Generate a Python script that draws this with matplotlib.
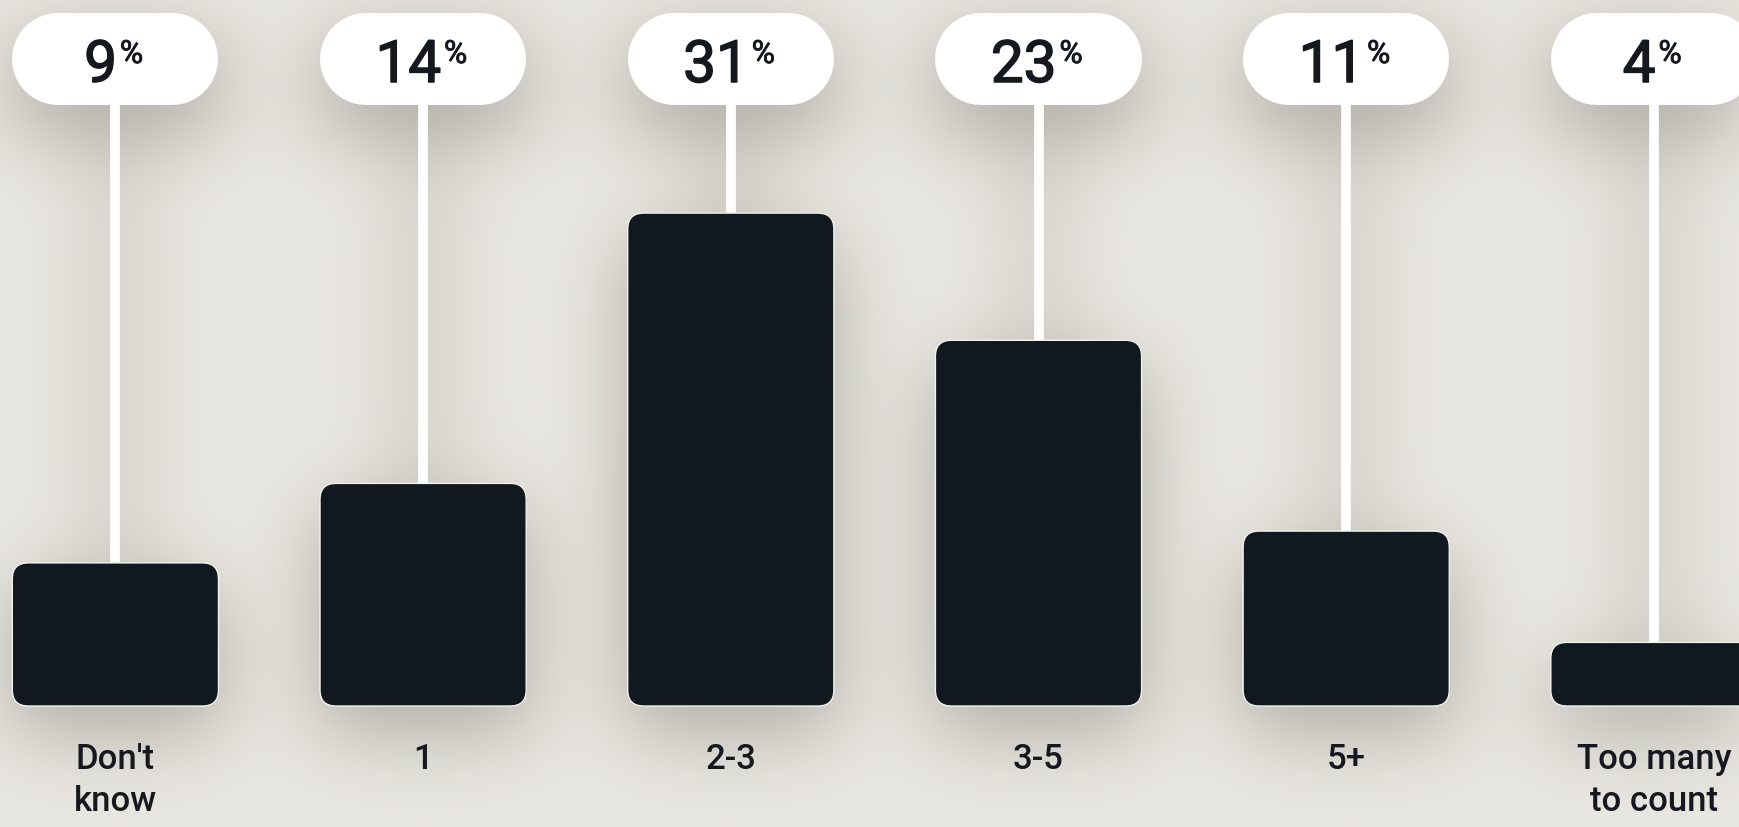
import numpy as np
import matplotlib.pyplot as plt
import matplotlib.patheffects as pe
from matplotlib.patches import FancyBboxPatch
from matplotlib.transforms import blended_transform_factory

# Data
categories = ["Don't\nknow", "1", "2-3", "3-5", "5+", "Too many\nto count"]
shares = [9, 14, 31, 23, 11, 4]

W, H, DPI = 1740, 827, 100
bg_color = "#e8e6e0"
bar_color = "#121820"
text_color = "#15191f"

# layout in pixels
px_per_cat = 307.7
px_per_pct = 15.9
first_center_px = 115.4
base_px = 121          # bar baseline, from bottom
bar_w = 0.67           # in category units
pill_top_px, pill_bot_px = 13, 105   # from top
corner_px = 16

plt.rcParams['font.family'] = ['Roboto', 'DejaVu Sans']

fig = plt.figure(figsize=(W / DPI, H / DPI), dpi=DPI)
fig.patch.set_facecolor(bg_color)
ax = fig.add_axes([0, 0, 1, 1])
ax.set_zorder(2)
ax.patch.set_alpha(0)
ax.axis('off')

x = np.arange(len(categories))
x_left = -first_center_px / px_per_cat
ax.set_xlim(x_left, x_left + W / px_per_cat)
y_bot = -base_px / px_per_pct
ax.set_ylim(y_bot, y_bot + H / px_per_pct)

aspect = px_per_cat / px_per_pct
pill_lo = y_bot + (H - pill_bot_px) / px_per_pct
pill_hi = y_bot + (H - pill_top_px) / px_per_pct
pill_mid = (pill_lo + pill_hi) / 2
pill_h_px = pill_bot_px - pill_top_px

# soft shadow layer, built from the same geometry
yy, xx = np.mgrid[0:H, 0:W]
mask = np.zeros((H, W))
def add_rect(x0, y0, x1, y1):
    (px0, py0), (px1, py1) = ax.transData.transform([(x0, y0), (x1, y1)])
    mask[((xx >= px0) & (xx <= px1) & (H - yy >= py0) & (H - yy <= py1))] = 1.0

for xi, v in zip(x, shares):
    add_rect(xi - bar_w / 2, 0, xi + bar_w / 2, v)
    add_rect(xi - bar_w / 2, pill_lo, xi + bar_w / 2, pill_hi)
    add_rect(xi - 0.04, v, xi + 0.04, pill_lo)

def blur(a, s):
    k = np.arange(-3 * s, 3 * s + 1)
    g = np.exp(-k ** 2 / (2.0 * s * s))
    g /= g.sum()
    a = np.apply_along_axis(lambda r: np.convolve(r, g, mode='same'), 1, a)
    a = np.apply_along_axis(lambda c: np.convolve(c, g, mode='same'), 0, a)
    return a

shadow = blur(np.roll(mask, 26, axis=0), 40)
bg = np.array([0xe9, 0xe7, 0xe1]) / 255.0
img = bg[None, None, :] * (1 - 0.26 * shadow[:, :, None])
img[..., 2] *= (1 - 0.02 * shadow)
fig.figimage(np.clip(img, 0, 1), 0, 0, origin='upper', zorder=0)

trans = blended_transform_factory(ax.transData, ax.transAxes)
num_base = 1 - 82 / H
pct_base = 1 - 63 / H
r = corner_px / px_per_cat
cap_half = pill_h_px / 2 / px_per_cat
thicker = [pe.withStroke(linewidth=1.1, foreground=text_color)]

for xi, v, lab in zip(x, shares, categories):
    # stem
    ax.plot([xi, xi], [v, pill_lo], color='white', lw=7, solid_capstyle='butt', zorder=2)
    # bar
    ax.add_patch(FancyBboxPatch((xi - bar_w / 2, 0), bar_w, v,
                                boxstyle=f"round,pad=0,rounding_size={r}",
                                mutation_aspect=aspect, facecolor=bar_color,
                                edgecolor='#f2f1ee', lw=1.0, zorder=3))
    # pill (stadium shape from a thick round-capped line)
    ax.plot([xi - bar_w / 2 + cap_half, xi + bar_w / 2 - cap_half], [pill_mid, pill_mid],
            color='white', lw=pill_h_px * 72 / DPI, solid_capstyle='round', zorder=3)
    t = ax.text(xi - 0.048, num_base, str(v), transform=trans, ha='center', va='baseline',
                fontsize=42, fontweight='normal', color=text_color, zorder=4,
                path_effects=thicker)
    ax.annotate('%', xy=(1.0, pct_base), xycoords=(t, 'axes fraction'),
                xytext=(2, 0), textcoords='offset points', ha='left', va='baseline',
                fontsize=23, fontweight='normal', color=text_color, zorder=4,
                path_effects=[pe.withStroke(linewidth=0.6, foreground=text_color)])
    ax.text(xi, 1 - 743 / H, lab, transform=trans, ha='center', va='top',
            fontsize=25, fontweight='medium', color=text_color, linespacing=1.36, zorder=4)

fig.savefig('out.png', dpi=DPI, facecolor=bg_color)
